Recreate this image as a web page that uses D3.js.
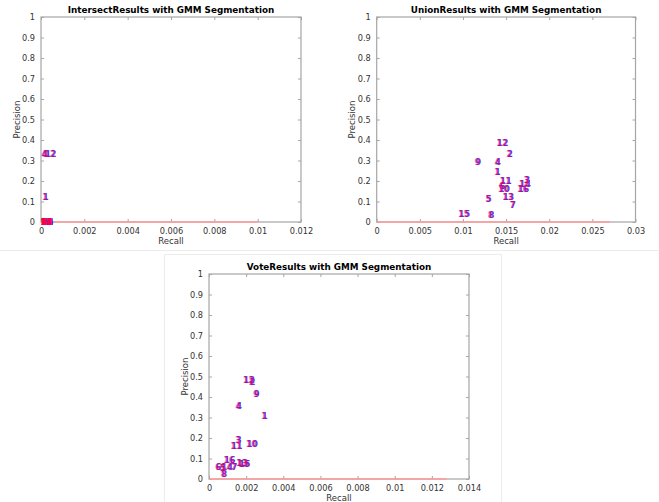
<!DOCTYPE html>
<html><head><meta charset="utf-8">
<script src="https://cdn.jsdelivr.net/npm/d3@7"></script>
<style>
html,body{margin:0;padding:0;background:#fff;}
svg{display:block;font-family:"DejaVu Sans",sans-serif;}
</style></head>
<body>
<svg id="c" width="659" height="502"></svg>
<script>
const labels = ["1","2","3","4","5","6","7","8","9","10","11","12","13","14","15","16"];

const intersectRecall    = [0.00005,0,0,0.00001,0,0,0,0,0,0,0,0.00015,0,0,0,0];
const intersectPrecision = [0.12,0,0,0.33,0,0,0,0,0,0,0,0.33,0,0,0,0];

const unionRecall    = [0.01361,0.01503,0.01703,0.01365,0.01258,0.01415,0.01538,0.01288,0.01134,0.01403,0.01423,0.01385,0.01454,0.01646,0.00942,0.01627];
const unionPrecision = [0.243,0.332,0.206,0.293,0.112,0.173,0.084,0.031,0.293,0.160,0.200,0.384,0.120,0.184,0.039,0.160];

const voteRecall    = [0.0028,0.00214,0.0014,0.00142,0.00056,0.00032,0.00118,0.00063,0.00237,0.00198,0.00115,0.001815,0.00145,0.00063,0.00158,0.00077];
const votePrecision = [0.308,0.47,0.187,0.354,0.053,0.06,0.057,0.024,0.414,0.17,0.162,0.484,0.076,0.057,0.073,0.094];

const baselineRecallEnd = [0.01, 0.027, 0.0128];

const yTicks = [0,0.1,0.2,0.3,0.4,0.5,0.6,0.7,0.8,0.9,1];
const intersectXTicks = [0,0.002,0.004,0.006,0.008,0.01,0.012];
const unionXTicks = [0,0.005,0.01,0.015,0.02,0.025,0.03];
const voteXTicks = [0,0.002,0.004,0.006,0.008,0.01,0.012,0.014];

const titles = ["IntersectResults with GMM Segmentation","UnionResults with GMM Segmentation","VoteResults with GMM Segmentation"];

const svg = d3.select("#c");

// faint figure borders
svg.append("line").attr("x1",0).attr("x2",659).attr("y1",250.5).attr("y2",250.5)
  .attr("stroke","#ececec").attr("stroke-width",1);
svg.append("rect").attr("x",164.5).attr("y",254.5).attr("width",337).attr("height",260)
  .attr("fill","#fff").attr("stroke","#ececec").attr("stroke-width",1);

const panels = [
  {l:41, r:301, t:17, b:222, xmax:0.012, xt:intersectXTicks, rx:intersectRecall, py:intersectPrecision, title:titles[0], end:baselineRecallEnd[0]},
  {l:376.7, r:635.5, t:17, b:222, xmax:0.03, xt:unionXTicks, rx:unionRecall, py:unionPrecision, title:titles[1], end:baselineRecallEnd[1]},
  {l:209, r:469, t:274, b:479, xmax:0.014, xt:voteXTicks, rx:voteRecall, py:votePrecision, title:titles[2], end:baselineRecallEnd[2]}
];

const axisCol = "#a6a6a6";
const textCol = "#333";

panels.forEach(p => {
  const x = d3.scaleLinear().domain([0,p.xmax]).range([p.l,p.r]);
  const y = d3.scaleLinear().domain([0,1]).range([p.b,p.t]);
  const g = svg.append("g");

  // axes box
  g.append("rect").attr("x",p.l).attr("y",p.t).attr("width",p.r-p.l).attr("height",p.b-p.t)
    .attr("fill","#fff").attr("stroke",axisCol).attr("stroke-width",1.2);

  const fmt = d => d3.format("~g")(d);

  const bx = g.append("g").attr("transform",`translate(0,${p.b})`)
    .call(d3.axisBottom(x).tickValues(p.xt).tickSize(-3).tickPadding(6).tickFormat(fmt));
  const tx = g.append("g").attr("transform",`translate(0,${p.t})`)
    .call(d3.axisTop(x).tickValues(p.xt).tickSize(-3).tickFormat(""));
  const ly = g.append("g").attr("transform",`translate(${p.l},0)`)
    .call(d3.axisLeft(y).tickValues(yTicks).tickSize(-3).tickPadding(6).tickFormat(fmt));
  const ry = g.append("g").attr("transform",`translate(${p.r},0)`)
    .call(d3.axisRight(y).tickValues(yTicks).tickSize(-3).tickFormat(""));
  [bx,tx,ly,ry].forEach(a => {
    a.select(".domain").remove();
    a.selectAll(".tick line").attr("stroke",axisCol);
    a.selectAll(".tick text").attr("fill",textCol).attr("font-size",8.2)
      .attr("font-family","DejaVu Sans, sans-serif");
  });

  // baseline curve
  g.append("line").attr("x1",x(0)).attr("x2",x(p.end)).attr("y1",y(0)).attr("y2",y(0))
    .attr("stroke","#ff9a9a").attr("stroke-width",1.6);

  // title
  g.append("text").attr("x",(p.l+p.r)/2).attr("y",p.t-4)
    .attr("text-anchor","middle").attr("font-weight","bold").attr("font-size",8.8)
    .attr("fill","#000").text(p.title);
  // axis labels
  g.append("text").attr("x",(p.l+p.r)/2).attr("y",p.b+22)
    .attr("text-anchor","middle").attr("font-size",8.5).attr("fill",textCol).text("Recall");
  g.append("text").attr("transform",`translate(${p.l-21.5},${(p.t+p.b)/2}) rotate(-90)`)
    .attr("text-anchor","middle").attr("font-size",8.5).attr("fill",textCol).text("Precision");

  // point labels (blue then red, slightly offset)
  const pts = labels.map((lab,i) => ({lab, r:p.rx[i], v:p.py[i]}));
  g.selectAll("text.b").data(pts).join("text").attr("class","b")
    .attr("x",d => x(d.r)+0.9).attr("y",d => y(d.v)).attr("dy","0.35em")
    .attr("font-size",8).attr("font-weight","bold").attr("fill","#2a2aff").text(d => d.lab);
  g.selectAll("text.r").data(pts).join("text").attr("class","r")
    .attr("x",d => x(d.r)).attr("y",d => y(d.v)).attr("dy","0.35em")
    .attr("font-size",8).attr("font-weight","bold").attr("fill","#ff0040").attr("fill-opacity",0.62).text(d => d.lab);
});
</script>
</body></html>
